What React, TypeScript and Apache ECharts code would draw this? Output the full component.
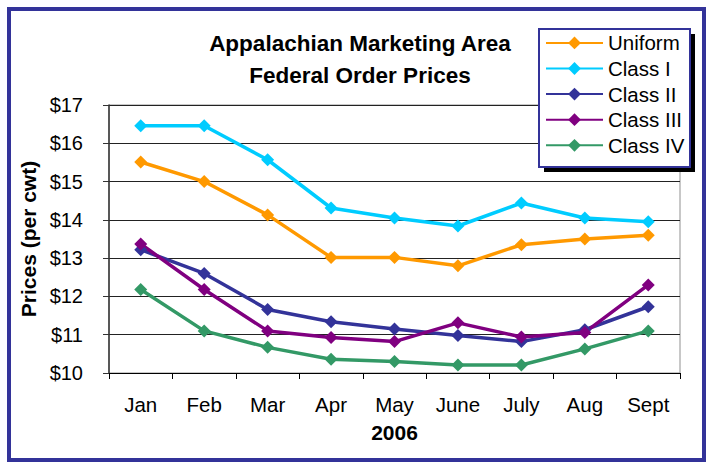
import React, { useEffect, useRef } from "react";
import * as echarts from "echarts";

const months = ["Jan", "Feb", "Mar", "Apr", "May", "June", "July", "Aug", "Sept"];
const uniform = [15.51, 15.0, 14.13, 13.02, 13.02, 12.8, 13.35, 13.5, 13.6];
const classI = [16.46, 16.46, 15.57, 14.31, 14.05, 13.84, 14.44, 14.05, 13.95];
const classII = [13.22, 12.6, 11.66, 11.34, 11.15, 10.98, 10.82, 11.13, 11.73];
const classIII = [13.37, 12.18, 11.1, 10.93, 10.82, 11.31, 10.94, 11.06, 12.3];
const classIV = [12.18, 11.1, 10.67, 10.36, 10.3, 10.21, 10.21, 10.63, 11.1];

const seriesDefs = [
  { name: "Uniform", data: uniform, color: "#FF9900" },
  { name: "Class I", data: classI, color: "#00CCFF" },
  { name: "Class II", data: classII, color: "#333399" },
  { name: "Class III", data: classIII, color: "#800080" },
  { name: "Class IV", data: classIV, color: "#339966" },
];

const FONT = "'Liberation Sans', Arial, sans-serif";

export default function App() {
  const ref = useRef<HTMLDivElement>(null);
  useEffect(() => {
    if (!ref.current) return;
    const chart = echarts.init(ref.current, undefined, { renderer: "svg" });
    chart.setOption({
      animation: false,
      backgroundColor: "#ffffff",
      textStyle: { fontFamily: FONT },
      title: {
        text: "Appalachian Marketing Area\nFederal Order Prices",
        left: 355,
        top: 22,
        textAlign: "center",
        textStyle: { fontFamily: FONT, fontSize: 22.5, fontWeight: "bold", color: "#000", lineHeight: 32 },
      },
      legend: {
        orient: "vertical",
        left: 540,
        top: 27.4,
        itemWidth: 57,
        itemHeight: 16,
        itemGap: 4.6,
        z: 10,
        textStyle: { fontFamily: FONT, fontSize: 20.5, color: "#000" },
        data: seriesDefs.map((s) => s.name),
      },
      graphic: [
        { type: "rect", z: 100, shape: { x: 9, y: 9, width: 695, height: 451 }, style: { fill: "none", stroke: "#333399", lineWidth: 4 } },
        { type: "rect", z: 5, shape: { x: 544, y: 34, width: 151, height: 138 }, style: { fill: "#000" } },
        { type: "rect", z: 6, shape: { x: 539, y: 29, width: 151, height: 138 }, style: { fill: "#fff", stroke: "#333399", lineWidth: 2 } },
      ],
      grid: {
        left: 109,
        right: 27,
        top: 105,
        bottom: 89,
        show: true,
        borderColor: "#909090",
        borderWidth: 1,
      },
      xAxis: {
        type: "category",
        data: months,
        boundaryGap: true,
        name: "2006",
        nameLocation: "middle",
        nameGap: 49,
        nameTextStyle: { fontFamily: FONT, fontSize: 21, fontWeight: "bold", color: "#000" },
        axisLine: { lineStyle: { color: "#000", width: 1 } },
        axisTick: { show: true, length: 6, inside: false, lineStyle: { color: "#000" } },
        axisLabel: { fontFamily: FONT, fontSize: 20.5, color: "#000", margin: 21 },
        splitLine: { show: false },
      },
      yAxis: {
        type: "value",
        min: 10,
        max: 17,
        interval: 1,
        name: "Prices (per cwt)",
        nameLocation: "middle",
        nameGap: 68,
        nameRotate: 90,
        nameTextStyle: { fontFamily: FONT, fontSize: 21, fontWeight: "bold", color: "#000" },
        axisLine: { show: true, lineStyle: { color: "#333", width: 1.5 } },
        axisTick: { show: true, length: 6, inside: false, lineStyle: { color: "#333" } },
        axisLabel: { fontFamily: FONT, fontSize: 20, color: "#000", margin: 26, formatter: (v: number) => "$" + v },
        splitLine: { show: true, lineStyle: { color: "#222", width: 1 } },
      },
      series: seriesDefs.map((s) => ({
        name: s.name,
        type: "line",
        data: s.data,
        symbol: "diamond",
        symbolSize: 13,
        showSymbol: true,
        itemStyle: { color: s.color },
        lineStyle: { color: s.color, width: 3.5 },
        z: 2,
      })),
    });
    return () => chart.dispose();
  }, []);
  return (
    <div
      ref={ref}
      style={{ position: "absolute", left: 0, top: 0, width: 707, height: 462 }}
    />
  );
}
